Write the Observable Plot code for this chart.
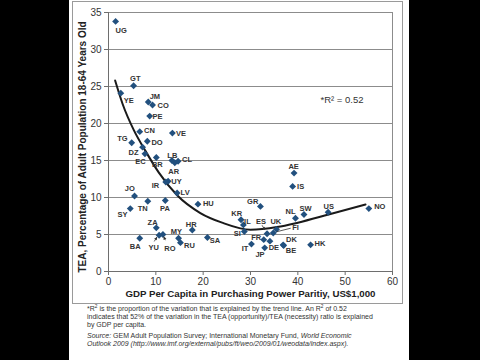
<!DOCTYPE html>
<html><head><meta charset="utf-8">
<script src="https://cdn.jsdelivr.net/npm/d3@7"></script>
<script src="https://cdn.jsdelivr.net/npm/@observablehq/plot@0.6"></script>
<style>
html,body{margin:0;padding:0;background:#000;width:480px;height:360px;overflow:hidden;}
#panel{position:absolute;left:69px;top:0;width:340px;height:360px;background:#fff;overflow:hidden;font-family:"Liberation Sans",Arial,sans-serif;}
#chart{position:absolute;left:0;top:0;}
#box{position:absolute;left:3px;top:1px;width:331px;height:303px;border:1px solid #9a9a9a;box-sizing:border-box;pointer-events:none;}
#notes{position:absolute;left:18px;top:305px;font-size:7px;line-height:8px;color:#333;white-space:nowrap;}
#notes p{margin:0;}
#notes p.src{margin-top:3px;}
#notes sup{font-size:4.8px;line-height:0;vertical-align:3px;}
</style></head><body>
<div id="panel">
<div id="chart"></div>
<div id="box"></div>
<div id="notes">
<p>*R<sup>2</sup> is the proportion of the variation that is explained by the trend line. An R<sup>2</sup> of 0.52<br>indicates that 52% of the variation in the TEA (opportunity)/TEA (necessity) ratio is explained<br>by GDP per capita.</p>
<p class="src"><i>Source:</i> GEM Adult Population Survey; International Monetary Fund, <i>World Economic</i><br><i>Outlook 2009 (http://www.imf.org/external/pubs/ft/weo/2009/01/weodata/index.aspx).</i></p>
</div>
</div>
<script>
// ---- data ----
const codes = ["UG","GT","YE","JM","CO","PE","CN","VE","TG","DO","DZ","EC","BR","LB","AR","CL","UY","IR","LV","JO","HU","TN","PA","SY","ZA","HR","SA","BA","YU","RO","MY","RU","GR","KR","IL","SI","ES","FI","UK","FR","DE","JP","IT","DK","BE","AE","IS","NL","SW","US","NO","HK"];
const gdp  = [1.5,5.3,2.6,8.4,9.3,8.7,6.6,13.5,4.9,8.2,7.2,7.7,10.1,13.4,14.0,14.7,12.6,12.1,14.5,5.5,18.9,8.3,12.0,4.6,10.1,17.7,20.9,6.6,10.7,11.5,14.8,15.2,32.1,28.0,28.5,28.7,33.5,34.8,35.5,32.8,34.1,33.0,30.2,36.9,37.0,39.2,38.9,39.5,41.3,46.4,55.0,42.7];
const tea  = [33.8,25.1,24.1,22.9,22.5,21.0,18.9,18.7,17.4,17.6,16.8,15.9,15.4,15.0,14.7,14.9,12.2,12.1,10.6,10.2,9.1,9.5,9.6,8.5,5.9,5.6,4.6,4.5,4.9,5.0,4.5,3.9,8.8,7.0,6.3,5.4,5.1,5.2,5.7,4.3,4.1,3.2,3.7,3.6,3.5,13.3,11.5,7.2,7.7,8.0,8.5,3.6];
const trendGdp = [1.4,3.0,5.35,7.8,10.6,14.5,19.4,24.0,30.0,35.6,40.0,46.5,54.3];
const trendTea = [25.8,22.6,19.1,16.3,13.4,10.3,7.9,6.6,5.65,6.0,6.6,7.7,9.05];
const xTicks = [0,10,20,30,40,50,60];
const yTicks = [0,5,10,15,20,25,30,35];
const gridLines = [5,10,15,20,25,30,35];
const xTitle = "GDP Per Capita in Purchasing Power Paritiy, US$1,000";
const yTitle = "TEA, Percentage of Adult Population 18-64 Years Old";
const r2Note = "*R\u00B2 = 0.52";

// ---- label placement (pixel offsets from each point) ----
const labelOffsets = {
  UG:[5.5,9], GT:[1.7,-7], YE:[8,7], JM:[6.6,-5], CO:[10.7,1], PE:[7.7,0], CN:[9.7,-1], VE:[8.6,0],
  TG:[-9.3,-3.7], DO:[9.7,1.3], DZ:[-9,5.3], EC:[-4.6,8], BR:[1,7], LB:[0.4,-5.4], AR:[-1,8.6], CL:[9,-1.4],
  UY:[8.4,0], IR:[-10.3,3.5], LV:[8,-0.7], JO:[-4.7,-7], HU:[10.4,-1], TN:[-5,7.3], PA:[-0.4,7.7], SY:[-7.7,5.7],
  ZA:[-3.7,-5.6], HR:[-1,-5.6], SA:[7.6,3.3], BA:[-4.6,8.7], YU:[-5.4,12], RO:[7,14.3], MY:[-2.3,-7], RU:[9,3],
  GR:[-7.7,-5], KR:[-4.3,-6.3], IL:[4,-3], SI:[-7,2], ES:[-6,-12.3], FI:[22.3,-5], UK:[-0.7,-8], FR:[-7.6,-2.3],
  DE:[4,6.6], JP:[-4.7,6.7], IT:[-6.4,4.4], DK:[8.3,-5], BE:[7.3,5], AE:[-0.4,-6.7], IS:[8,0], NL:[-5,-7],
  SW:[1.6,-5.7], US:[0.6,-6], NO:[11,-2.3], HK:[9.3,-1]
};
// leader lines: [startDx, startDy, endDx, endDy, arrowhead]
const leaders = {
  YU:[-4.4,6.7,-1.6,2.2,true], RO:[3,6.2,1.2,2.6,true], ES:[-4.5,-8,-1.6,-3.2,true], FI:[18,-4.3,4,-0.8,false]
};

const points = codes.map((c,i)=>({code:c, x:gdp[i], y:tea[i]}));
const trend = trendGdp.map((x,i)=>({x, y:trendTea[i]}));
const font = "Liberation Sans, Arial, sans-serif";

const labelMarks = points.map(p => {
  const [dx,dy] = labelOffsets[p.code];
  return Plot.text([p], {x:"x", y:"y", text:"code", dx, dy, fontSize:7.5, fontWeight:"bold", fill:"#333"});
});

const chart = Plot.plot({
  width:340, height:303,
  marginLeft:39, marginRight:17, marginTop:12, marginBottom:32,
  style:{fontFamily:font, fontSize:"10px", color:"#333", background:"transparent"},
  x:{domain:[0,60], label:null},
  y:{domain:[0,35], label:null},
  marks:[
    Plot.ruleY(gridLines, {stroke:"#8c8c8c", strokeWidth:1}),
    Plot.ruleX([60], {stroke:"#8c8c8c"}),
    Plot.ruleX([0], {stroke:"#6e6e6e"}),
    Plot.ruleY([0], {stroke:"#6e6e6e"}),
    Plot.axisX(xTicks, {tickSize:4, tickPadding:2, stroke:"#6e6e6e", fill:"#333", label:null}),
    Plot.axisY(yTicks, {tickSize:4, tickPadding:3, stroke:"#6e6e6e", fill:"#333", label:null}),
    Plot.line(trend, {x:"x", y:"y", curve:"monotone-x", stroke:"#1a1a1a", strokeWidth:2}),
    Plot.dot(points, {x:"x", y:"y", symbol:"diamond2", r:3.1, fill:"#22507e", stroke:"none"}),
    ...labelMarks,
    Plot.text([yTitle], {frameAnchor:"left", text:d=>d, rotate:-90, textAnchor:"middle", lineAnchor:"middle", dx:-26, dy:5, fontSize:10, fontWeight:"bold", fill:"#222"}),
    Plot.text([xTitle], {frameAnchor:"bottom", text:d=>d, textAnchor:"middle", lineAnchor:"middle", dy:22.5, fontSize:9.7, fontWeight:"bold", fill:"#222"}),
    Plot.text([r2Note], {frameAnchor:"top-right", text:d=>d, textAnchor:"end", lineAnchor:"middle", dx:-29, dy:87, fontSize:9.5, fill:"#333"})
  ]
});

// leader lines / arrows positioned through the plot's own scales
const sx = chart.scale("x"), sy = chart.scale("y");
const fx = sx.apply ? v=>sx.apply(v) : d3.scaleLinear(sx.domain, sx.range);
const fy = sy.apply ? v=>sy.apply(v) : d3.scaleLinear(sy.domain, sy.range);
const g = d3.select(chart).append("g").attr("stroke","#333").attr("stroke-width",0.8).attr("fill","#333");
for (const p of points) {
  const L = leaders[p.code]; if (!L) continue;
  const px = fx(p.x), py = fy(p.y);
  const x1 = px+L[0], y1 = py+L[1], x2 = px+L[2], y2 = py+L[3];
  g.append("line").attr("x1",x1).attr("y1",y1).attr("x2",x2).attr("y2",y2);
  if (L[4]) {
    const a = Math.atan2(y2-y1, x2-x1), h = 3, w = 1.6;
    const bx = x2 - h*Math.cos(a), by = y2 - h*Math.sin(a);
    g.append("path").attr("stroke","none").attr("d",
      `M${x2},${y2}L${bx - w*Math.sin(a)},${by + w*Math.cos(a)}L${bx + w*Math.sin(a)},${by - w*Math.cos(a)}Z`);
  }
}
document.getElementById("chart").appendChild(chart);
</script>
</body></html>
